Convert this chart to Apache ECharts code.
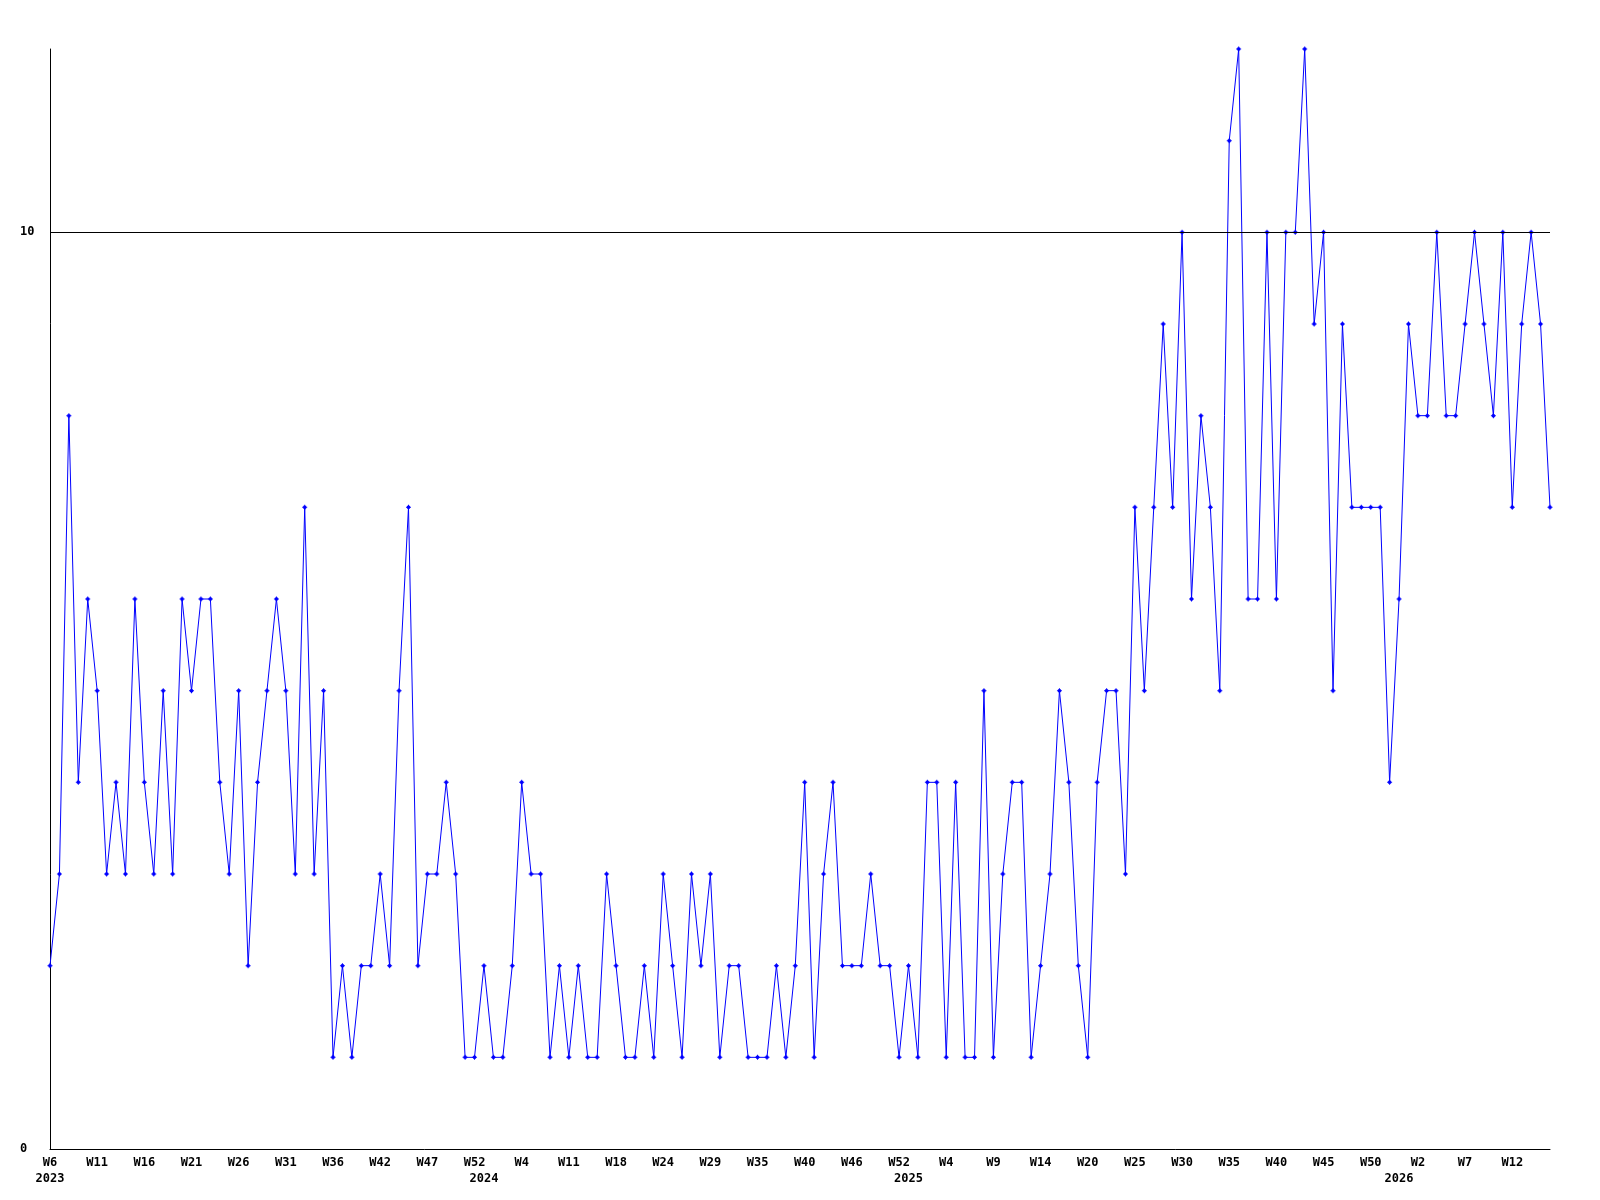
<!DOCTYPE html>
<html>
<head>
<meta charset="utf-8">
<script src="https://cdn.jsdelivr.net/npm/echarts@6/dist/echarts.min.js"></script>
<style>
html,body{margin:0;padding:0;background:#fff;}
#chart{width:1600px;height:1200px;}
</style>
</head>
<body>
<div id="chart"></div>
<script>
// Week categories (year-week)
var weeks = [
 '2023-W6','2023-W7','2023-W8','2023-W9','2023-W10','2023-W11','2023-W12','2023-W13','2023-W14','2023-W15',
 '2023-W16','2023-W17','2023-W18','2023-W19','2023-W20','2023-W21','2023-W22','2023-W23','2023-W24','2023-W25',
 '2023-W26','2023-W27','2023-W28','2023-W29','2023-W30','2023-W31','2023-W32','2023-W33','2023-W34','2023-W35',
 '2023-W36','2023-W37','2023-W38','2023-W39','2023-W40','2023-W42','2023-W43','2023-W44','2023-W45','2023-W46',
 '2023-W47','2023-W48','2023-W49','2023-W50','2023-W51','2023-W52','2024-W0','2024-W1','2024-W2','2024-W3',
 '2024-W4','2024-W5','2024-W7','2024-W8','2024-W10','2024-W11','2024-W12','2024-W14','2024-W15','2024-W16',
 '2024-W18','2024-W19','2024-W20','2024-W22','2024-W23','2024-W24','2024-W25','2024-W26','2024-W27','2024-W28',
 '2024-W29','2024-W30','2024-W31','2024-W32','2024-W34','2024-W35','2024-W36','2024-W37','2024-W38','2024-W39',
 '2024-W40','2024-W41','2024-W42','2024-W44','2024-W45','2024-W46','2024-W47','2024-W48','2024-W49','2024-W51',
 '2024-W52','2025-W0','2025-W1','2025-W2','2025-W3','2025-W4','2025-W5','2025-W6','2025-W7','2025-W8',
 '2025-W9','2025-W10','2025-W11','2025-W12','2025-W13','2025-W14','2025-W15','2025-W16','2025-W17','2025-W19',
 '2025-W20','2025-W21','2025-W22','2025-W23','2025-W24','2025-W25','2025-W26','2025-W27','2025-W28','2025-W29',
 '2025-W30','2025-W31','2025-W32','2025-W33','2025-W34','2025-W35','2025-W36','2025-W37','2025-W38','2025-W39',
 '2025-W40','2025-W41','2025-W42','2025-W43','2025-W44','2025-W45','2025-W46','2025-W47','2025-W48','2025-W49',
 '2025-W50','2025-W51','2025-W52','2026-W0','2026-W1','2026-W2','2026-W3','2026-W4','2026-W5','2026-W6',
 '2026-W7','2026-W8','2026-W9','2026-W10','2026-W11','2026-W12','2026-W13','2026-W14','2026-W15','2026-W16'
];

// Weekly values
var values = [
 2,3,8,4,6,5,3,4,3,6,
 4,3,5,3,6,5,6,6,4,3,
 5,2,4,5,6,5,3,7,3,5,
 1,2,1,2,2,3,2,5,7,2,
 3,3,4,3,1,1,2,1,1,2,
 4,3,3,1,2,1,2,1,1,3,
 2,1,1,2,1,3,2,1,3,2,
 3,1,2,2,1,1,1,2,1,2,
 4,1,3,4,2,2,2,3,2,2,
 1,2,1,4,4,1,4,1,1,5,
 1,3,4,4,1,2,3,5,4,2,
 1,4,5,5,3,7,5,7,9,7,
 10,6,8,7,5,11,12,6,6,10,
 6,10,10,12,9,10,5,9,7,7,
 7,7,4,6,9,8,8,10,8,8,
 9,10,9,8,10,7,9,10,9,7
];

// Y axis range, tick step and the reference gridline value
var yMin = 0, yMax = 12, yStep = 10;
var gridLines = [10];

var font = {fontFamily: 'DejaVu Sans Mono', fontWeight: 'bold', fontSize: 12, color: '#000'};
var marker = 'path://M2,0L3,0L3,1L4,1L4,2L5,2L5,3L4,3L4,4L3,4L3,5L2,5L2,4L1,4L1,3L0,3L0,2L1,2L1,1L2,1Z';

var chart = echarts.init(document.getElementById('chart'), null, {renderer: 'canvas'});
chart.setOption({
  animation: false,
  backgroundColor: '#fff',
  grid: {left: 50, right: 50, top: 49, bottom: 51},
  xAxis: [{
    type: 'category',
    data: weeks,
    boundaryGap: false,
    axisLine: {show: true, lineStyle: {color: '#000', width: 1}},
    axisTick: {show: false},
    splitLine: {show: false},
    axisLabel: Object.assign({
      interval: 4,
      margin: 8,
      formatter: function (v) { return v.split('-')[1]; }
    }, font)
  }, {
    type: 'category',
    data: weeks,
    position: 'bottom',
    offset: 16,
    boundaryGap: false,
    axisLine: {show: false},
    axisTick: {show: false},
    splitLine: {show: false},
    axisLabel: Object.assign({
      interval: 0,
      margin: 8,
      formatter: function (v, i) {
        var y = v.split('-')[0];
        if (i === 0 || weeks[i - 1].split('-')[0] !== y) return y;
        return '';
      }
    }, font)
  }],
  yAxis: {
    type: 'value',
    min: yMin, max: yMax, interval: yStep,
    axisLine: {show: true, lineStyle: {color: '#000', width: 1}},
    axisTick: {show: false},
    splitLine: {show: false},
    axisLabel: Object.assign({align: 'left', margin: 30, showMaxLabel: false}, font)
  },
  series: [{
    type: 'line',
    xAxisIndex: 0,
    data: values,
    symbol: marker,
    symbolSize: 5,
    showAllSymbol: true,
    lineStyle: {color: '#0000ff', width: 1},
    itemStyle: {color: '#0000ff'},
    markLine: {
      silent: true,
      symbol: ['none', 'none'],
      label: {show: false},
      lineStyle: {color: '#000', width: 1, type: 'solid'},
      emphasis: {disabled: true},
      data: gridLines.map(function (v) { return {yAxis: v}; })
    },
    z: 3
  }]
});
</script>
</body>
</html>
